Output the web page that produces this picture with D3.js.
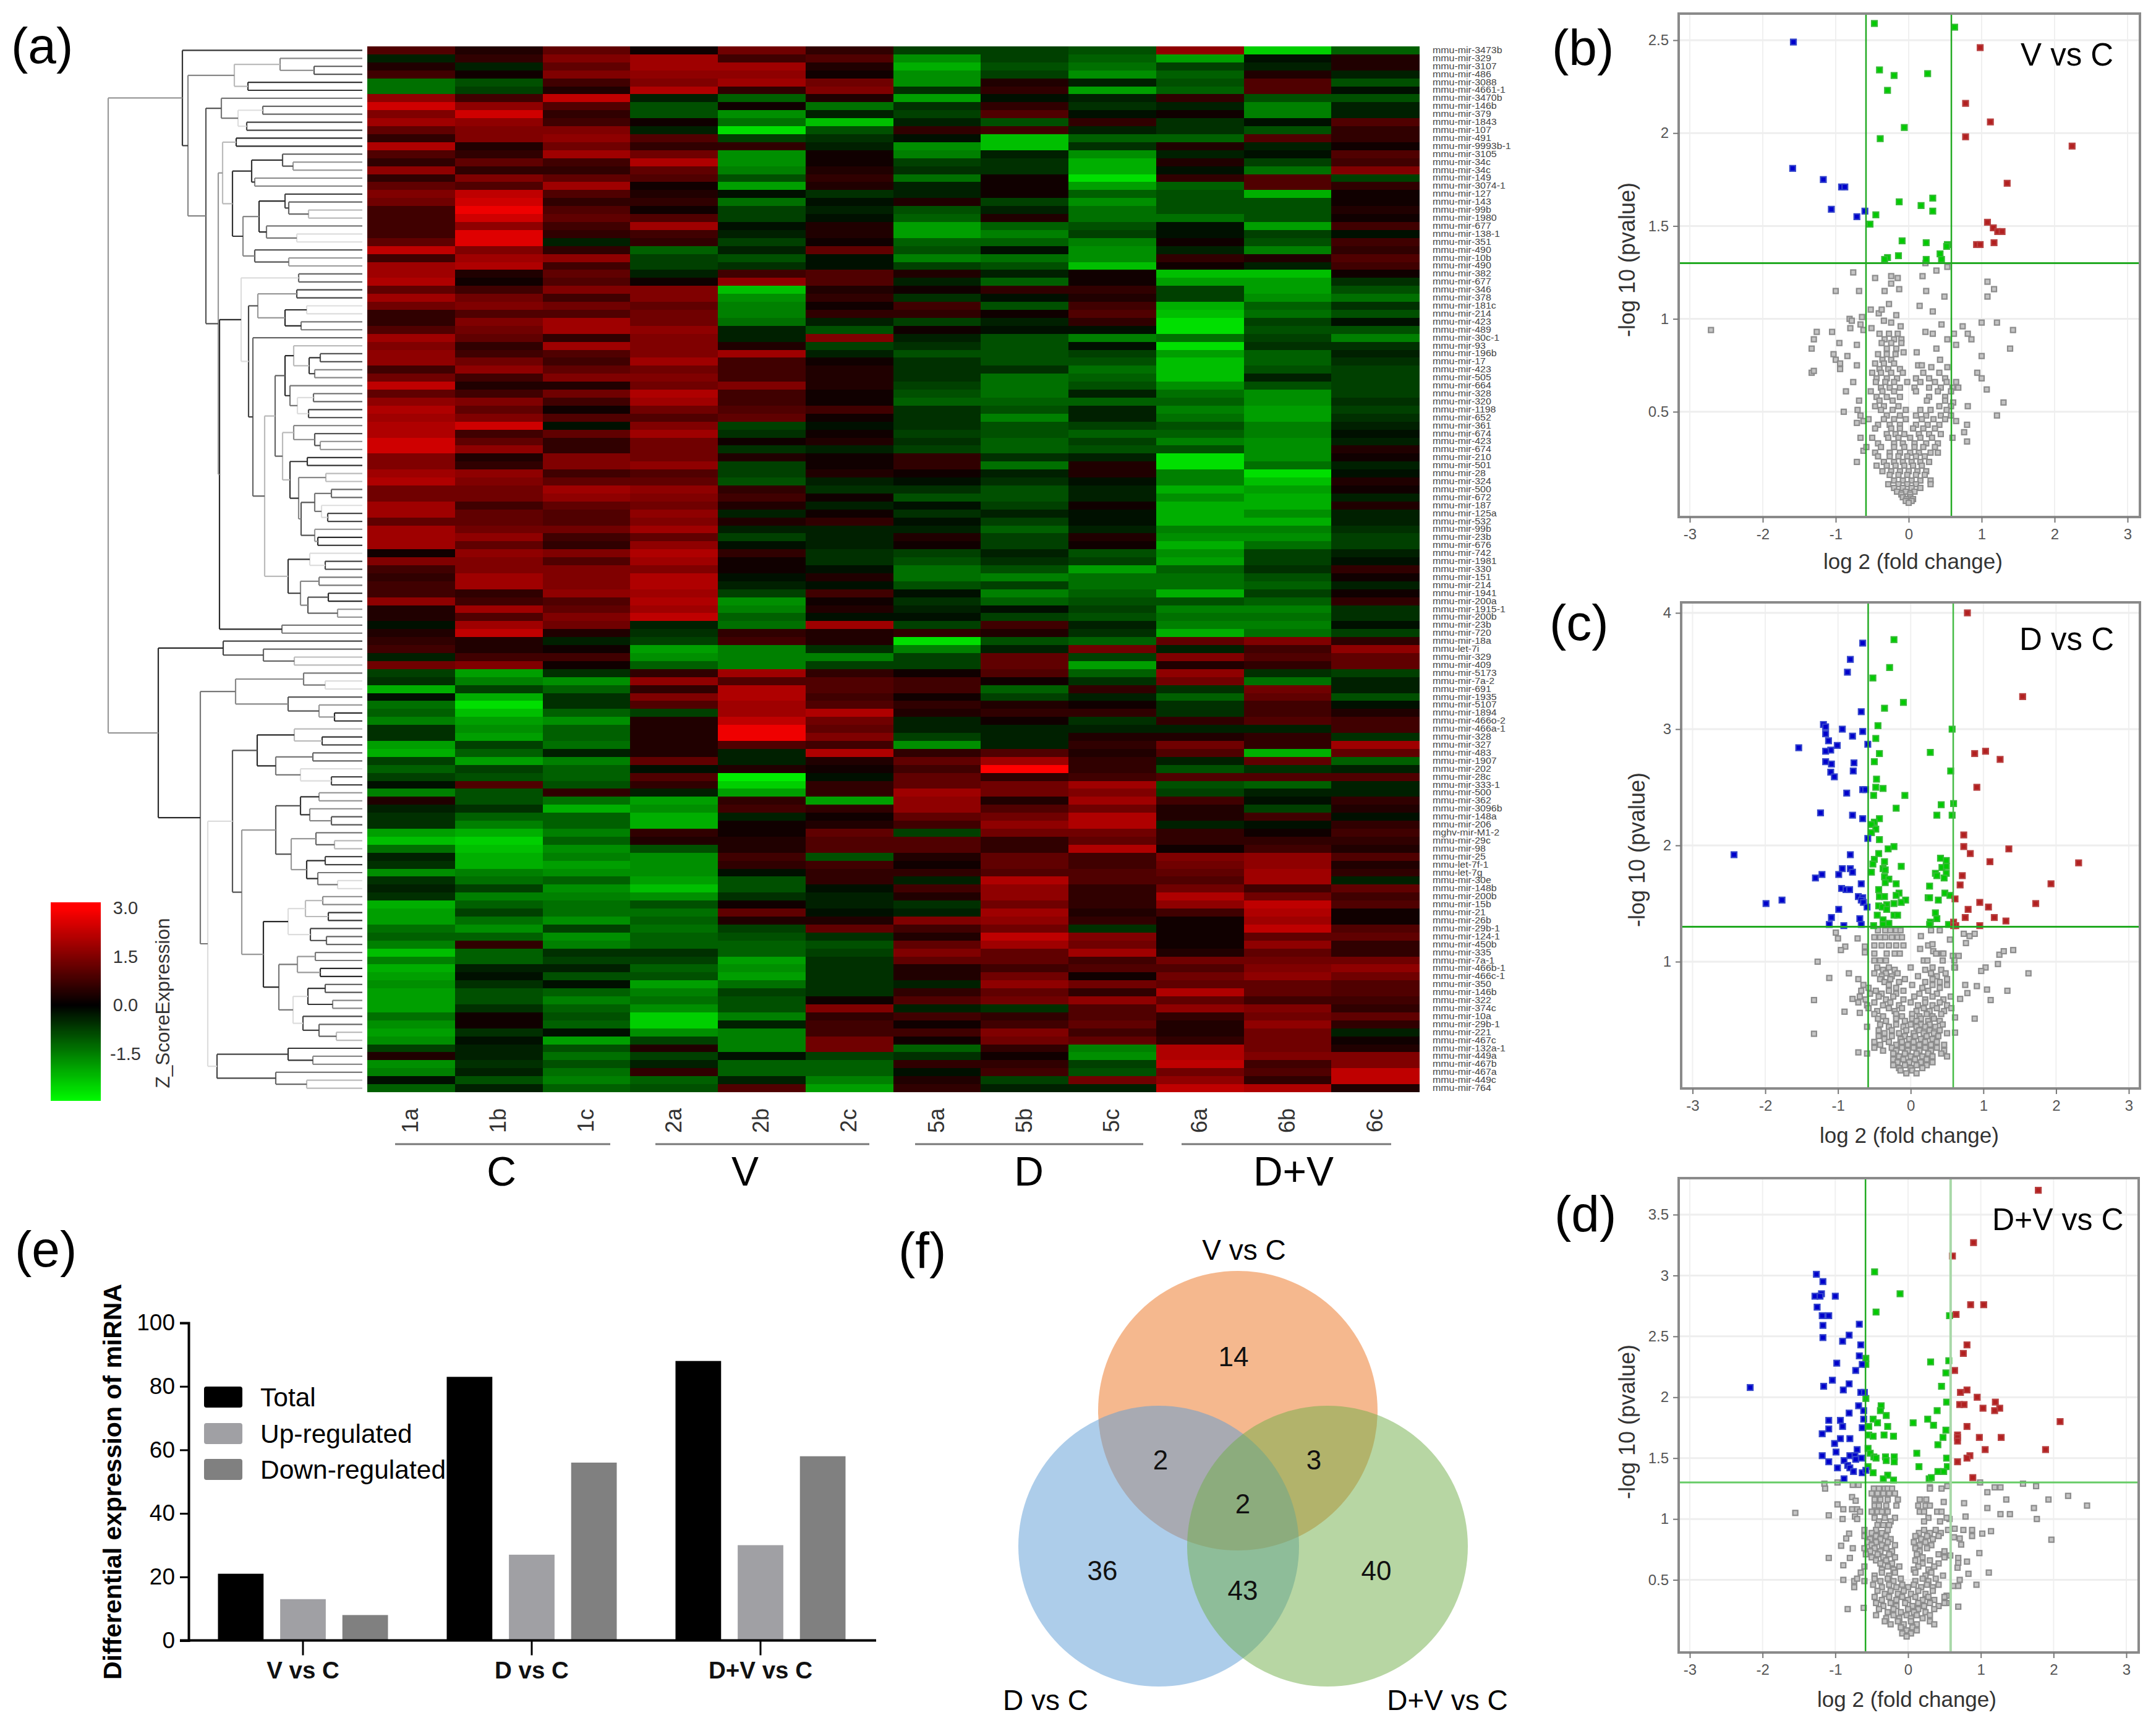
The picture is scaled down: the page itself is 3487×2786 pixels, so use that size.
<!DOCTYPE html>
<html><head><meta charset="utf-8">
<style>html,body{margin:0;padding:0;background:#fff}svg{display:block}text{font-family:"Liberation Sans",Arial,sans-serif}</style>
<script src="https://cdn.jsdelivr.net/npm/d3@7"></script></head><body>
<svg id="c" width="3487" height="2786" xmlns="http://www.w3.org/2000/svg"></svg>
<script>
/* ---------- (a) heat map data: levels are Z-score x 16/3 ---------- */
const sampleLabels=['1a','1b','1c','2a','2b','2c','5a','5b','5c','6a','6b','6c'];
const groupLabels=['C','V','D','D+V'];
const miRNA=['mmu-mir-3473b','mmu-mir-329','mmu-mir-3107','mmu-mir-486','mmu-mir-3088','mmu-mir-4661-1','mmu-mir-3470b','mmu-mir-146b','mmu-mir-379','mmu-mir-1843','mmu-mir-107','mmu-mir-491','mmu-mir-9993b-1','mmu-mir-3105','mmu-mir-34c','mmu-mir-34c','mmu-mir-149','mmu-mir-3074-1','mmu-mir-127','mmu-mir-143','mmu-mir-99b','mmu-mir-1980','mmu-mir-677','mmu-mir-138-1','mmu-mir-351','mmu-mir-490','mmu-mir-10b','mmu-mir-490','mmu-mir-382','mmu-mir-677','mmu-mir-346','mmu-mir-378','mmu-mir-181c','mmu-mir-214','mmu-mir-423','mmu-mir-489','mmu-mir-30c-1','mmu-mir-93','mmu-mir-196b','mmu-mir-17','mmu-mir-423','mmu-mir-505','mmu-mir-664','mmu-mir-328','mmu-mir-320','mmu-mir-1198','mmu-mir-652','mmu-mir-361','mmu-mir-674','mmu-mir-423','mmu-mir-674','mmu-mir-210','mmu-mir-501','mmu-mir-28','mmu-mir-324','mmu-mir-500','mmu-mir-672','mmu-mir-187','mmu-mir-125a','mmu-mir-532','mmu-mir-99b','mmu-mir-23b','mmu-mir-676','mmu-mir-742','mmu-mir-1981','mmu-mir-330','mmu-mir-151','mmu-mir-214','mmu-mir-1941','mmu-mir-200a','mmu-mir-1915-1','mmu-mir-200b','mmu-mir-23b','mmu-mir-720','mmu-mir-18a','mmu-let-7i','mmu-mir-329','mmu-mir-409','mmu-mir-5173','mmu-mir-7a-2','mmu-mir-691','mmu-mir-1935','mmu-mir-5107','mmu-mir-1894','mmu-mir-466o-2','mmu-mir-466a-1','mmu-mir-328','mmu-mir-327','mmu-mir-483','mmu-mir-1907','mmu-mir-202','mmu-mir-28c','mmu-mir-333-1','mmu-mir-500','mmu-mir-362','mmu-mir-3096b','mmu-mir-148a','mmu-mir-206','mghv-mir-M1-2','mmu-mir-29c','mmu-mir-98','mmu-mir-25','mmu-let-7f-1','mmu-let-7g','mmu-mir-30e','mmu-mir-148b','mmu-mir-200b','mmu-mir-15b','mmu-mir-21','mmu-mir-26b','mmu-mir-29b-1','mmu-mir-124-1','mmu-mir-450b','mmu-mir-335','mmu-mir-7a-1','mmu-mir-466b-1','mmu-mir-466c-1','mmu-mir-350','mmu-mir-146b','mmu-mir-322','mmu-mir-374c','mmu-mir-10a','mmu-mir-29b-1','mmu-mir-221','mmu-mir-467c','mmu-mir-132a-1','mmu-mir-449a','mmu-mir-467b','mmu-mir-467a','mmu-mir-449c','mmu-mir-764'];
const heatRows=[
[5,2,6,1,7,3,-4,-4,-5,9,-13,-6],[-2,3,8,10,4,5,-9,-4,-6,-10,-1,2],[2,-2,6,10,10,2,-11,-5,-7,-4,-2,2],[4,1,8,9,9,1,-9,-4,-9,-6,2,-2],
[-7,-5,4,8,10,7,-9,2,-2,-5,5,-5],[-7,-4,2,11,3,8,-3,3,-10,-6,5,-1],[9,4,12,-2,-6,2,-10,-1,-2,3,-5,-5],[13,9,5,-5,1,-7,-3,3,-3,-2,-8,-2],
[8,13,3,-5,-9,-2,-4,5,-1,1,-8,-2],[10,9,4,1,-7,-12,-2,-5,3,-3,-1,5],[6,8,8,-2,-14,-5,3,4,-2,-3,-5,3],[3,8,9,5,-4,-3,-1,-12,-6,-6,5,3],
[11,2,7,3,3,-2,-9,-12,-3,2,-2,1],[5,3,10,7,-9,1,-8,-2,-9,-2,-1,5],[3,6,4,11,-9,1,-4,-3,-11,2,-4,4],[9,3,3,6,-8,2,-3,-3,-11,-1,-7,8],
[3,8,6,5,-5,3,-7,1,-14,3,5,-4],[6,5,10,1,-10,2,-2,1,-10,-6,5,3],[8,12,5,2,-1,-3,-2,1,-6,-5,-11,1],[7,13,3,3,-7,-1,2,-4,-9,-5,-5,1],
[4,15,5,1,-4,-2,-5,-2,-7,-5,-5,2],[4,13,6,5,-4,-1,-6,2,-7,-7,-5,1],[4,9,4,10,-1,2,-10,-6,-5,-1,-10,4],[4,14,3,4,-2,2,-10,-8,-4,-1,-4,-1],
[6,14,-2,3,-4,1,-6,-6,-8,1,-5,4],[12,8,3,-6,-2,6,-5,-1,-9,-2,-8,3],[4,10,9,-4,-5,-1,-8,-7,-9,3,2,5],[10,11,4,-4,-3,-1,-4,-5,-12,1,-2,4],
[10,2,6,-2,4,5,2,-2,1,-12,-12,1],[11,1,5,1,9,5,-2,-6,1,-10,-10,-3],[6,4,8,8,-12,2,1,3,3,-4,-10,-5],[10,7,4,8,-9,3,-3,-1,2,-4,-9,-7],
[7,8,7,6,-8,1,4,-5,4,-11,-6,-3],[3,5,5,7,-8,3,3,1,5,-12,-7,-5],[3,8,10,7,-7,-2,-4,-2,3,-14,-4,-1],[5,7,10,9,-2,-5,1,-1,-1,-14,-5,-5],
[10,6,3,8,-2,8,-2,-5,-8,-7,-4,-8],[8,3,10,8,2,-4,-3,-5,-1,-14,-3,-3],[9,4,5,8,10,-2,-5,-5,-4,-10,-6,-2],[9,7,4,10,4,1,-3,-5,-5,-12,-6,-3],
[4,9,6,7,4,2,-3,-3,-7,-12,-5,-4],[7,4,8,8,4,2,-3,-7,-6,-12,-2,-4],[12,2,2,7,8,2,-4,-7,-5,-9,-5,-4],[6,4,7,11,4,1,-5,-7,-2,-7,-9,-4],
[9,8,4,10,4,1,-6,-6,-6,-6,-9,-3],[11,6,1,7,5,4,-3,-5,-2,-8,-10,-4],[10,8,5,5,6,1,-3,-8,-2,-7,-10,-3],[11,13,-1,8,-4,-1,-3,-5,-4,-5,-8,-2],
[11,4,6,10,-3,1,-4,-5,-6,-6,-8,-1],[13,6,3,7,1,2,-3,-6,-4,-8,-9,-2],[13,9,3,7,-3,-2,-4,-6,-5,-5,-9,2],[8,2,8,7,2,1,3,-3,-2,-14,-9,1],
[8,3,8,9,-4,1,3,-7,2,-14,-7,-2],[10,9,4,5,-4,2,1,-2,2,-8,-14,-1],[11,8,6,6,-5,-2,-1,-3,-1,-8,-12,2],[7,7,10,9,3,-3,-3,-5,-2,-11,-10,1],
[7,7,9,8,4,1,-5,-5,-2,-9,-11,-2],[10,4,6,7,2,-2,-1,-4,1,-11,-11,2],[10,6,5,9,-2,1,-3,-2,-1,-11,-9,-2],[6,6,5,8,2,3,-1,-4,-1,-11,-11,-2],
[10,7,7,10,-2,-2,-2,-6,-2,-8,-8,-3],[10,9,4,6,-4,-2,2,-4,2,-9,-9,-4],[10,6,3,9,-1,-2,1,-4,1,-11,-7,-4],[1,9,8,11,3,-3,-4,-2,-5,-9,-4,-2],
[8,8,5,10,1,-3,-5,-3,-4,-10,-4,-1],[4,8,8,8,1,-1,-7,-5,-10,-6,-3,3],[3,10,8,11,-1,2,-7,-8,-7,-7,-5,1],[4,10,8,11,-2,-1,-5,-4,-7,-7,-6,-2],
[4,3,9,10,-4,4,-1,-8,-6,-11,-4,1],[9,4,5,11,-9,1,-3,-6,-5,-5,-6,3],[2,10,6,10,-8,2,-2,-1,-4,-8,-8,-3],[2,5,8,12,-6,-1,-1,-4,-5,-7,-7,-3],
[-1,10,7,-2,-7,10,-4,4,-2,-8,-8,-1],[2,12,2,-3,3,2,3,2,-3,-11,-7,-4],[3,2,-2,-4,4,2,-14,-5,-6,6,8,3],[4,2,1,-10,-8,-3,-8,-2,7,-2,4,9],
[-2,4,4,-9,-8,-8,-4,6,-4,8,5,6],[7,8,1,-6,-8,-4,-4,6,-10,2,3,6],[-4,-10,-3,3,10,3,1,5,-6,9,-3,-4],[-3,-8,-9,9,5,5,4,1,-3,7,-7,-2],
[-11,-4,-6,3,11,5,4,-6,3,-3,7,-2],[-1,-11,-3,8,11,4,1,-4,-2,-6,6,-5],[-7,-14,-3,5,10,5,3,2,1,-3,4,-1],[-6,-12,-6,-4,10,11,2,3,3,-3,4,2],
[-8,-10,-9,2,12,7,-2,1,-3,3,5,4],[-3,-9,-6,2,15,6,-2,-2,-2,-2,-2,4],[-3,-10,-6,2,15,8,-4,-2,2,2,3,-3],[-10,-4,-7,2,5,4,-9,-2,3,7,3,10],
[-11,-6,-2,2,-2,11,3,5,2,5,-11,6],[-4,-10,-8,6,-2,2,6,10,3,-2,6,-6],[-6,-4,-6,-1,2,1,4,16,3,-5,-3,-2],[-4,-5,-6,5,-15,-1,6,3,4,5,5,5],
[-1,5,-5,3,-13,3,6,7,10,-5,-6,-2],[-8,-5,3,-2,-10,3,10,7,8,-4,-2,-2],[2,-5,-7,-10,3,-10,9,2,10,4,-1,3],[-2,-3,-11,-9,4,3,9,5,7,2,-4,2],
[-3,-6,-6,-11,-2,1,6,7,11,2,4,-1],[-3,-8,-6,-11,1,2,4,9,11,-2,-1,3],[-10,-11,-8,3,1,6,-4,7,7,3,1,4],[-12,-13,-6,2,2,5,5,3,6,3,3,3],
[-7,-12,-9,-5,2,5,5,3,11,1,4,2],[-2,-11,-8,-9,4,-5,2,6,4,8,9,5],[-3,-11,-10,-9,3,4,1,6,4,7,9,2],[-9,-8,-9,-9,-1,3,3,5,5,6,10,3],
[-3,-7,-6,-10,-5,3,-2,11,5,5,10,-2],[-2,-4,-9,-12,-5,-1,4,9,3,7,4,6],[-3,-8,-8,-9,-3,-2,2,9,3,11,7,4],[-11,-6,-7,-5,1,-2,-3,7,3,9,12,5],
[-10,-4,-7,-7,6,-1,-2,10,2,4,11,1],[-10,-7,-9,-6,2,2,8,9,3,1,10,1],[-7,-9,-4,-7,-4,6,4,7,-3,1,12,5],[-6,-6,-9,-6,-5,-3,2,12,8,1,6,6],
[-8,3,-8,-6,-6,-5,6,10,7,1,9,3],[-12,-6,-3,-3,-6,-4,8,6,10,2,6,3],[-8,-6,-4,-4,-10,-3,6,6,4,7,7,7],[-11,-2,-2,-6,-9,-3,2,4,5,5,8,9],
[-10,-1,-5,-5,-10,-3,2,7,1,7,9,7],[-9,-3,-1,-10,-7,-3,-2,9,7,6,6,5],[-10,-5,-6,-8,-4,-3,3,6,3,11,6,5],[-10,-5,-8,-7,-5,1,5,7,9,6,4,4],
[-10,-3,-6,-9,-5,8,-2,-3,5,9,8,3],[-7,1,-5,-13,-8,3,4,3,5,3,7,6],[-9,1,-6,-13,-2,4,1,4,6,2,9,3],[-10,-3,-1,-9,-8,4,4,8,4,2,7,-2],
[-9,-1,-10,-4,-8,7,1,7,6,3,7,1],[-4,-2,-5,2,-8,7,-6,3,-8,11,7,2],[2,-2,-7,-4,-1,-4,-3,1,-9,11,8,8],[-9,-3,-5,-2,-6,-6,3,3,-4,12,4,8],
[-8,-2,-7,3,-6,-6,-1,4,-5,7,5,12],[-1,-5,-8,-6,-2,-8,2,-4,7,9,3,12],[-6,-2,-6,-5,5,-10,3,-2,-2,12,11,2]];
const o=0; // a leaf of the row dendrogram; nodes are [height, child, child]
const rowTree=[411,
 [291,o,[282,
  [207,[133,o,[78,o,o]],[185,o,o]],
  [253,
   [228,o,[201,[161,o,o],[187,o,o]]],
   [233,
    [226,[204,o,o],[210,
      [179,[129,o,[112,o,o]],[174,o,o]],
      [193,[167,[125,o,[119,o,[87,o,o]]],[155,o,[106,o,o]]],[174,o,[119,o,o]]]]],
    [231,
     [196,[103,o,o],[184,
       [169,[106,o,o],[125,[90,o,o],[99,o,o]]],
       [177,o,[158,
         [141,
          [125,[111,o,[86,[68,o,o],[77,o,o]]],[117,o,[105,[79,o,o],[87,o,o]]]],
          [129,[111,o,[77,o,[68,o,o]]],
               [117,[89,o,o],[103,[59,o,o],[99,[77,[50,o,o],[66,o,[56,o,o]]],[77,o,[72,o,o]]]]]]],
         [120,[85,o,[60,o,o]],[100,[70,o,o],[88,[55,o,o],[40,o,o]]]]]]]],
     [130,o,o]]]]]],
 [330,
  [225,o,[160,o,[110,o,o]]],
  [262,
   [205,[95,o,[60,o,o]],[120,o,[70,o,[45,o,o]]]],
   [250,
    [210,
     [170,[110,o,[65,o,o]],[140,[80,o,o],[100,o,[50,o,o]]]],
     [195,
      [140,[100,[70,o,o],[85,o,[50,o,o]]],[115,[75,o,[45,o,o]],[90,[60,o,o],[72,o,[40,o,o]]]]],
      [160,[120,[92,[64,o,o],[55,o,o]],[84,o,[58,o,o]]],[135,[105,[76,o,o],[68,o,o]],[112,[88,[60,o,o],[48,o,o]],[96,o,[70,o,[42,o,o]]]]]]]],
    [235,[120,o,[80,o,o]],[140,o,[90,o,o]]]]]]];
const legendTicks=[3,1.5,0,-1.5];

/* ---------- (b) V vs C ---------- */
const bBlue=[[-1.58,2.49],[-1.59,1.81],[-1.17,1.75],[-.92,1.71],[-.875,1.71],[-1.06,1.59],[-.6,1.58],[-.71,1.55]];
const bGreen=[[-.47,2.59],[.63,2.57],[-.4,2.34],[-.2,2.31],[.26,2.32],[-.29,2.23],[-.06,2.03],[-.39,1.97],[-.13,1.63],[.33,1.65],[.17,1.61],[.33,1.58],[-.45,1.56],[-.53,1.51],[-.09,1.42],[.24,1.41],[.53,1.4],[.52,1.39],[.43,1.35],[.45,1.32],[.24,1.32],[-.14,1.34],[-.29,1.33],[-.33,1.32]];
const bRed=[[.98,2.46],[.78,2.16],[1.12,2.06],[.78,1.98],[2.24,1.93],[1.35,1.73],[1.08,1.52],[1.16,1.49],[1.22,1.47],[1.28,1.47],[1.17,1.41],[.93,1.4],[.98,1.4]];
const bGraySparse=[[-.76,1.25],[-.46,1.22],[-.24,1.23],[-.15,1.22],[.19,1.23],[.38,1.26],[.23,1.3],[.53,1.28],[1.08,1.2],[1.17,1.16],[1.08,1.12],[.49,1.12],[.24,1.15],[-.13,1.16],[-.33,1.15],[-.24,1.19],[-1,1.15],[-.68,1.15],[-.27,1.08],[.15,1.07],[.33,1.04],[-.52,1.05],[-.41,1.03],[-.37,1.05],[-.81,1],[-.78,.99],[-.64,1.01],[-.17,1.02],[-.34,.99],[-.24,.98],[-.66,.97],[-.11,.96],[.45,.97],[.74,.96],[1,.98],[1.21,.98],[1.43,.94],[-2.71,.94],[-1.26,.93],[-1.05,.93],[-.8,.95],[-.62,.94],[-.51,.95],[.23,.93],[.33,.92],[.62,.92],[.81,.92],[.86,.89],[-1.3,.89],[-.95,.87],[-.71,.86],[.53,.89],[.65,.86],[.38,.84],[1.39,.84],[-1.33,.84],[.11,.82],[-.07,.82],[-1.03,.81],[-.84,.8],[1,.8],[.43,.78],[-1,.78],[-.94,.76],[-.94,.73],[-.71,.75],[.13,.75],[.18,.75],[.53,.74],[.31,.74],[-1.33,.71],[-1.3,.72],[.94,.71],[1,.68],[-.76,.66],[.65,.66],[.68,.63],[1.07,.62],[-.86,.61],[1.3,.55],[.61,.55],[.81,.53],[-.89,.5],[1.21,.48],[.65,.45],[.8,.43],[.76,.39],[.8,.34],[.6,.36],[-.71,.44],[-.62,.45],[-.66,.36],[-.71,.23],[-.62,.29]];
const bGrayBands=[[.92,[-.4,-.27,-.15]],[.89,[-.33,-.2,-.1]],[.87,[-.37,-.24,-.1]],[.84,[-.3,-.17]],[.81,[-.42,-.3,-.18]],[.78,[-.36,-.24]],[.76,[-.46,-.34,-.2]],[.73,[-.4,-.28,-.12]],[.71,[-.5,-.38,-.24,-.08,.2,.42]],[.68,[-.44,-.3,-.16,.1,.28,.5]],[.66,[-.45,-.32,-.2,-.02,.16,.36,.52]],[.63,[-.38,-.26,-.12,.08,.28,.44,.6]],[.61,[-.52,-.36,-.2,.1,.4,.58]],[.58,[-.44,-.3,-.12,.28,.5]],[.56,[-.68,-.4,-.22,.25,.5]],[.53,[-.46,-.34,-.14,.42,.58]],[.51,[-.7,-.38,-.22,-.04,.16,.3,.52]],[.48,[-.66,-.3,-.12,.1,.24,.44,.58]],[.46,[-.55,-.34,-.2,-.04,.18,.34,.5]],[.43,[-.42,-.26,-.12,.1,.26,.42]],[.41,[-.46,-.24,-.12,.06,.2,.36]],[.38,[-.3,-.18,-.06,.14,.28,.44]],[.36,[-.5,-.28,-.14,.02,.16,.32]],[.33,[-.42,-.2,-.08,.08,.24,.4]],[.31,[-.58,-.38,-.2,-.06,.08,.2,.36]],[.28,[-.46,-.26,-.12,.02,.14,.3,.4]],[.26,[-.42,-.26,-.14,-.02,.1,.22]],[.23,[-.34,-.2,-.08,.04,.16,.28]],[.21,[-.44,-.3,-.18,-.06,.06,.18]],[.18,[-.36,-.24,-.12,0,.12,.24]],[.16,[-.26,-.14,-.02,.1,.22]],[.13,[-.2,-.08,.04,.16,.3]],[.11,[-.28,-.14,-.02,.1,.3]],[.09,[-.2,-.08,.04,.16]],[.07,[-.16,-.04,.08]],[.055,[-.1,.02]],[.04,[-.08,.02]],[.03,[-.03,.06]],[.02,[-.04,.04]],[.01,[0]]];

/* ---------- (c) D vs C ---------- */
const cBlue=[[-.66,3.74],[-.83,3.6],[-.87,3.49],[-.68,3.15],[-1.2,3.04],[-1.17,3.02],[-.94,3],[-1.17,2.96],[-.66,2.98],[-.8,2.94],[-1.13,2.9],[-.59,2.87],[-1.01,2.86],[-1.54,2.84],[-1.1,2.82],[-1.17,2.81],[-1.17,2.72],[-1.09,2.7],[-.78,2.71],[-.79,2.64],[-1.1,2.63],[-1.05,2.59],[-.66,2.48],[-.62,2.48],[-.88,2.45],[-1.24,2.28],[-.8,2.26],[-.66,2.23],[-.59,2.06],[-2.43,1.92],[-.83,1.92],[-.94,1.8],[-.83,1.8],[-.8,1.77],[-.99,1.75],[-1.22,1.75],[-1.31,1.72],[-.68,1.67],[-.95,1.63],[-.89,1.62],[-.84,1.62],[-.72,1.56],[-.66,1.55],[-.68,1.53],[-.65,1.51],[-.6,1.47],[-1.77,1.53],[-1.99,1.5],[-.99,1.45],[-1.09,1.38],[-.7,1.37],[-1.12,1.32],[-.92,1.31],[-.68,1.32]];
const cGreen=[[-.23,3.77],[-.29,3.53],[-.52,3.44],[-.36,3.18],[-.1,3.23],[-.45,3.03],[.57,3],[-.48,2.92],[-.43,2.79],[.27,2.8],[-.5,2.72],[.55,2.64],[-.47,2.57],[-.48,2.5],[-.38,2.49],[-.51,2.43],[-.08,2.43],[-.2,2.32],[.42,2.35],[.59,2.36],[.36,2.26],[.57,2.26],[-.43,2.23],[-.5,2.2],[-.54,2.18],[-.48,2.14],[-.54,2.11],[-.43,2.05],[-.23,1.99],[-.31,1.97],[-.44,1.93],[-.5,1.88],[-.52,1.84],[-.36,1.86],[.41,1.89],[.49,1.87],[.43,1.81],[.49,1.82],[-.13,1.82],[-.38,1.8],[-.35,1.79],[-.54,1.77],[.34,1.76],[.36,1.74],[.49,1.76],[.46,1.72],[-.36,1.73],[-.3,1.71],[-.35,1.68],[-.2,1.67],[.26,1.65],[-.44,1.62],[.47,1.59],[.54,1.57],[-.16,1.59],[-.2,1.57],[-.43,1.56],[-.36,1.56],[.24,1.55],[.26,1.55],[.38,1.53],[-.07,1.53],[-.13,1.51],[-.23,1.5],[-.33,1.49],[-.44,1.48],[-.39,1.47],[-.33,1.45],[.34,1.42],[-.46,1.4],[-.23,1.4],[-.18,1.4],[.36,1.37],[-.38,1.36],[.27,1.34],[.26,1.32],[.52,1.32],[-.51,1.31],[-.38,1.32],[-.3,1.33]];
const cRed=[[.78,4],[1.54,3.28],[1.03,2.81],[.88,2.79],[1.23,2.74],[.91,2.5],[.73,2.09],[.73,1.99],[.82,1.93],[1.35,1.97],[1.09,1.86],[2.31,1.85],[.71,1.74],[.68,1.66],[1.93,1.67],[1.72,1.5],[.61,1.54],[.95,1.51],[1.07,1.47],[.79,1.45],[.75,1.38],[1.15,1.38],[1.31,1.35],[.59,1.34],[.62,1.31],[.95,1.31],[.59,1.31]];
const cGraySparse=[[-1.03,1.25],[-1,1.2],[-.73,1.2],[.14,1.22],[.54,1.19],[.73,1.24],[.88,1.24],[.81,1.22],[.76,1.16],[-.9,1.13],[-.96,1.1],[-.63,1.13],[-.63,1.08],[.24,1.14],[.3,1.15],[.13,1.11],[.31,1.09],[.43,1.07],[.58,1.05],[.66,1.05],[1.22,1.06],[1.28,1.09],[1.41,1.1],[1.2,.98],[-1.28,1],[1.03,.95],[.97,.92],[1.62,.9],[-.85,.9],[-1.12,.86],[-.72,.85],[.61,.95],[.75,.8],[.91,.79],[1.05,.76],[1.33,.75],[.78,.73],[.68,.68],[1.1,.67],[-1.33,.67],[-.8,.68],[-.91,.57],[-.7,.56],[.88,.51],[.61,.52],[-.6,.44],[-1.33,.38],[.61,.39],[-.72,.22],[-.6,.21]];
const cGrayBands=[[1.27,[-.45,-.35,-.28,-.2,-.14,.28,.4]],[1.21,[-.5,-.42,-.35,-.26,-.18,-.12]],[1.14,[-.5,-.4,-.3,-.2,-.1]],[1.07,[-.5,-.33,-.22,-.15,.35,.45]],[1.01,[-.5,-.42,-.34,.18,.23,.44,.6]],[.95,[-.46,-.3,0,.3,.6]],[.93,[-.38,-.22,.2,.42]],[.9,[-.5,-.34,-.18,.28,.48]],[.875,[-.4,-.26,.1,.36]],[.85,[-.42,-.28,-.08,.3,.5]],[.825,[-.36,-.16,.2,.4]],[.8,[-.65,-.3,.02,.3,.5]],[.775,[-.58,-.2,.16,.4]],[.75,[-.68,-.48,-.3,-.1,.24]],[.725,[-.56,-.4,-.2,.12,.36]],[.7,[-.7,-.44,-.24,.05,.3,.55]],[.675,[-.62,-.34,-.1,.2,.45]],[.65,[-.72,-.5,-.28,0,.2,.4]],[.625,[-.6,-.38,-.16,.1,.3,.5]],[.6,[-.58,-.3,-.12,.18,.36,.56]],[.575,[-.46,-.22,.08,.26,.46]],[.55,[-.5,-.2,.02,.22,.42]],[.53,[-.38,-.12,.12,.3]],[.51,[-.45,-.2,.02,.14,.32]],[.49,[-.34,-.08,.08,.24,.4]],[.46,[-.42,-.2,0,.14,.26,.44]],[.44,[-.3,-.1,.08,.2,.34]],[.41,[-.44,-.26,-.06,.12,.26,.4]],[.385,[-.36,-.16,.04,.18,.32,.5]],[.36,[-.44,-.26,-.08,.06,.22,.38]],[.335,[-.36,-.14,-.02,.14,.3]],[.31,[-.5,-.3,-.12,.04,.2,.36]],[.285,[-.42,-.2,-.04,.12,.28,.46]],[.26,[-.5,-.26,-.12,.04,.2,.36]],[.235,[-.38,-.2,-.04,.12,.28,.46]],[.21,[-.24,-.08,.08,.24,.42]],[.185,[-.16,0,.16,.3,.5]],[.16,[-.24,-.1,.06,.22]],[.135,[-.18,-.02,.14,.3]],[.11,[-.24,-.08,.08,.22]],[.085,[-.16,0,.16]],[.065,[-.14,.02]],[.04,[-.06,.08]]];

/* ---------- (d) D+V vs C ---------- */
const dBlue=[[-1.26,3.01],[-1.17,2.95],[-1.19,2.85],[-1.28,2.83],[-1.21,2.83],[-1,2.83],[-1.25,2.74],[-1.18,2.67],[-1.09,2.67],[-1.17,2.59],[-1.17,2.49],[-.67,2.6],[-.81,2.51],[-.9,2.46],[-.65,2.43],[-.67,2.34],[-.98,2.28],[-.63,2.27],[-.72,2.22],[-1.04,2.14],[-.81,2.11],[-1.16,2.09],[-.89,2.06],[-2.17,2.08],[-.65,2.04],[-.6,2.04],[-.68,1.93],[-.61,1.89],[-.81,1.87],[-1.09,1.81],[-.93,1.81],[-.61,1.82],[-.9,1.76],[-1.09,1.74],[-.63,1.75],[-1.18,1.7],[-.93,1.66],[-.8,1.66],[-1.01,1.62],[-.99,1.55],[-.7,1.57],[-1.18,1.52],[-.8,1.52],[-.73,1.52],[-.64,1.5],[-1.09,1.47],[-.88,1.48],[-.72,1.49],[-.83,1.44],[-.8,1.42],[-.97,1.42],[-.75,1.39],[-.63,1.38],[-.58,1.4],[-.88,1.33]];
const dGreen=[[-.46,3.03],[-.11,2.85],[-.44,2.7],[.57,2.67],[-.58,2.32],[-.58,2.27],[.56,2.3],[.31,2.29],[.52,2.2],[.46,2.09],[-.58,1.99],[.53,1.96],[-.37,1.93],[-.38,1.89],[.4,1.89],[-.3,1.85],[-.48,1.82],[-.42,1.79],[.07,1.79],[.27,1.82],[.35,1.77],[-.54,1.76],[-.28,1.76],[.52,1.73],[-.54,1.69],[-.48,1.68],[-.33,1.69],[-.2,1.68],[.48,1.67],[.41,1.61],[-.55,1.58],[-.52,1.54],[-.47,1.51],[-.44,1.5],[.12,1.54],[-.31,1.51],[-.3,1.48],[-.19,1.51],[-.19,1.47],[.53,1.5],[-.55,1.43],[.54,1.43],[.15,1.43],[.41,1.39],[.49,1.39],[-.48,1.38],[-.28,1.36],[-.34,1.33],[-.2,1.32],[.29,1.33],[.32,1.34]];
const dRed=[[1.79,3.7],[.9,3.27],[.61,3.16],[.86,2.76],[1.04,2.76],[.66,2.68],[.81,2.43],[.76,2.36],[.64,2.22],[.81,2.06],[.72,2.04],[.95,2],[1.2,1.96],[.71,1.94],[.77,1.94],[1.03,1.91],[1.26,1.91],[1.19,1.89],[2.09,1.8],[.81,1.76],[.68,1.69],[.68,1.67],[.68,1.64],[.98,1.67],[1.28,1.67],[1.06,1.57],[1.89,1.57],[.85,1.52],[.81,1.5],[.68,1.47],[.89,1.34]];
const dGraySparse=[[-1.15,1.29],[-1.14,1.25],[-.97,1.3],[-.76,1.28],[-.68,1.28],[.3,1.26],[.46,1.25],[.54,1.27],[.99,1.3],[1.09,1.22],[1.19,1.26],[1.27,1.26],[1.58,1.29],[1.76,1.27],[1.35,1.16],[1.93,1.16],[2.2,1.19],[.77,1.13],[2.46,1.11],[.49,1.14],[-.77,1.18],[-.72,1.15],[-.97,1.12],[-1.55,1.05],[-1.09,1.03],[-.89,1.08],[-.9,1],[-.77,1.08],[-.7,1.08],[-.66,1.06],[-.73,1.02],[-.7,1],[1.73,1.09],[1.09,1.09],[1.27,1.04],[1.4,1.04],[1.77,1],[.79,1.02],[.57,1],[1.97,.83],[1.14,.9],[1.02,.88],[.88,.91],[.88,.86],[.76,.91],[.64,.92],[.63,.85],[.71,.84],[-.81,.88],[-.85,.84],[-.92,.78],[-.76,.76],[-.8,.68],[-1.09,.68],[.98,.72],[.73,.79],[.81,.65],[.58,.7],[.69,.68],[.69,.64],[.68,.6],[1.11,.56],[.83,.55],[-.89,.62],[-.89,.5],[-.74,.49],[-.74,.44],[.94,.46],[.71,.5],[.62,.45],[.69,.45],[-.83,.26],[-.61,.27],[.69,.28],[.53,.37],[.53,.31]];
const dGrayBands=[[1.25,[-.47,-.4,-.32,-.28,-.22,.3]],[1.21,[-.5,-.42,-.34,-.26,-.18]],[1.16,[-.46,-.38,-.28,-.14,.16,.25]],[1.11,[-.46,-.4,-.3,-.16,.14,.24,.3]],[1.06,[-.5,-.42,-.36,-.28,.16,.22,.4,.46]],[1.01,[-.46,-.32,-.18,.28,.53]],[.98,[-.4,-.24,.22,.44]],[.95,[-.42,-.34,-.26]],[.91,[-.6,-.44,-.28,.22,.38,.55]],[.885,[-.5,-.36,.15,.3,.45]],[.86,[-.6,-.44,-.3,.1,.26,.42]],[.835,[-.52,-.38,-.24,.18,.34]],[.81,[-.56,-.44,-.28,.08,.24]],[.785,[-.5,-.36,-.18,.16,.32]],[.76,[-.6,-.46,-.3,.1,.26]],[.735,[-.52,-.38,-.22,.16,.5]],[.71,[-.58,-.42,-.26,.12,.42]],[.685,[-.5,-.34,-.18,.2,.5]],[.66,[-.44,-.3,.1,.3]],[.635,[-.38,-.22,.2,.42]],[.61,[-.6,-.28,-.12,.14,.36]],[.585,[-.36,-.2,.08,.28]],[.56,[-.65,-.36,-.18,.1,.32]],[.535,[-.46,-.26,.24,.48]],[.51,[-.7,-.46,-.28,-.1,.2,.38]],[.49,[-.6,-.38,-.2,.1,.28]],[.46,[-.48,-.26,-.08,.08,.26,.42]],[.44,[-.36,-.16,0,.18,.34]],[.41,[-.42,-.24,-.06,.14,.34]],[.385,[-.32,-.14,.04,.24]],[.36,[-.46,-.26,-.08,.1,.28,.5]],[.335,[-.36,-.16,0,.2,.36]],[.31,[-.44,-.24,-.04,.14,.3,.5]],[.285,[-.34,-.16,.06,.22,.42]],[.26,[-.4,-.2,0,.14,.36]],[.235,[-.28,-.1,.08,.24]],[.21,[-.44,-.2,-.02,.12,.3]],[.185,[-.3,-.12,.04,.2]],[.16,[-.32,-.14,.04,.3]],[.135,[-.24,-.06,.12,.36]],[.11,[-.1,.06]],[.085,[-.02,.12]],[.06,[-.08,.04]],[.035,[-.02]]];

/* ---------- (e) bars ---------- */
const barCategories=['V vs C','D vs C','D+V vs C'];
const barSeries=['Total','Up-regulated','Down-regulated'];
const totalCounts=[21,83,88];
const upCounts=[13,27,30];
const downCounts=[8,56,58];
const barTicks=[0,20,40,60,80,100];

/* ---------- (f) Venn ---------- */
const vennSets=['V vs C','D vs C','D+V vs C'];
const vennCounts=['14','2','3','2','36','40','43'];

/* ================= drawing ================= */
const svg=d3.select('#c');
const FONT='"Liberation Sans",Arial,sans-serif';
function label(s,x,y,size,opt={}){
  return svg.append('text').attr('x',x).attr('y',y).attr('font-size',size).attr('font-family',FONT)
   .attr('fill',opt.fill||'#000').attr('text-anchor',opt.anchor||'start').attr('font-weight',opt.weight||'normal')
   .attr('dominant-baseline',opt.base||'auto').text(s);
}
function vlabel(s,x,y,size,opt={}){
  return svg.append('text').attr('transform',`translate(${x},${y}) rotate(-90)`).attr('font-size',size).attr('font-family',FONT)
   .attr('fill',opt.fill||'#000').attr('text-anchor','middle').attr('dominant-baseline','central').attr('font-weight',opt.weight||'normal').text(s);
}
[['(a)',18,102],['(b)',2510,105],['(c)',2506,1035],['(d)',2514,1991],['(e)',24,2048],['(f)',1453,2050]].forEach(d=>label(d[0],d[1],d[2],82));

/* --- heat map --- */
const heatColor=d3.scaleLinear().domain([-16,0,16]).range(['#00ff00','#000000','#ff0000']).clamp(true);
const xHeat=d3.scaleBand().domain(sampleLabels).range([594,2295]);
const yHeat=d3.scaleBand().domain(d3.range(heatRows.length)).range([75,1766]);
svg.append('g').attr('shape-rendering','crispEdges').selectAll('g').data(heatRows).join('g')
 .attr('transform',(d,i)=>`translate(0,${yHeat(i)})`)
 .selectAll('rect').data(d=>d).join('rect')
 .attr('x',(d,i)=>xHeat(sampleLabels[i])).attr('width',xHeat.bandwidth()+.5).attr('height',yHeat.bandwidth()+.5)
 .attr('fill',d=>heatColor(d));
svg.append('g').selectAll('text').data(miRNA).join('text')
 .attr('transform',(d,i)=>`translate(2317,${yHeat(i)+yHeat.bandwidth()/2+4.5}) scale(1.14,1)`)
 .attr('font-size',14).attr('font-family',FONT).attr('fill','#444').text(d=>d);
sampleLabels.forEach(s=>vlabel(s,xHeat(s)+xHeat.bandwidth()/2-1,1812,36,{fill:'#333'}));
[[639,987,811],[1060,1406,1205],[1480,1849,1664],[1911,2250,2092]].forEach((g,i)=>{
  svg.append('line').attr('x1',g[0]).attr('x2',g[1]).attr('y1',1850).attr('y2',1850).attr('stroke','#777').attr('stroke-width',3);
  label(groupLabels[i],g[2],1917,66,{anchor:'middle'});
});

/* --- dendrogram --- */
const xTree=d3.scaleLinear().domain([0,410]).range([586,176]);
const shades=['#555','#888','#333','#bbb','#666','#444','#ddd','#777','#2a2a2a','#999'];
let leaf=0,nodeIdx=0;
const gTree=svg.append('g').attr('fill','none').attr('stroke-width',2.2);
function walk(n){
  if(!Array.isArray(n)){const y=yHeat(leaf)+yHeat.bandwidth()/2;leaf++;return{y,h:0};}
  const kids=n.slice(1).map(walk);
  const y=(kids[0].y+kids[kids.length-1].y)/2;
  const x=xTree(n[0]);
  gTree.append('path').attr('stroke',shades[nodeIdx++%shades.length])
    .attr('d',kids.map(k=>`M${xTree(k.h)},${k.y}H${x}`).join('')+`M${x},${kids[0].y}V${kids[kids.length-1].y}`);
  return{y,h:n[0]};
}
walk(rowTree);

/* --- colour legend --- */
const yLegend=d3.scaleLinear().domain([3,0]).range([1468,1625]);
const legendSteps=d3.range(3.17,-2.94,-0.02);
svg.append('g').attr('shape-rendering','crispEdges').selectAll('rect').data(legendSteps).join('rect')
 .attr('x',82).attr('width',81).attr('y',d=>yLegend(d)).attr('height',yLegend(0)-yLegend(.02)+.6)
 .attr('fill',d=>heatColor(d*16/3));
legendTicks.forEach(t=>label(t.toFixed(1),203,yLegend(t),29,{anchor:'middle',base:'central',fill:'#333'}));
vlabel('Z_ScoreExpression',263,1622,31.5,{fill:'#333'});

/* --- volcano plots --- */
function volcano(p){
  const x=d3.scaleLinear().domain([-3,3]).range(p.xr);
  const y=d3.scaleLinear().domain([0,p.yMaxTick]).range(p.yr);
  const g=svg.append('g');
  const xT=[-3,-2,-1,0,1,2,3];
  g.append('g').selectAll('line').data(xT).join('line').attr('x1',d=>x(d)).attr('x2',d=>x(d)).attr('y1',p.top).attr('y2',p.bottom).attr('stroke','#f0f0f0').attr('stroke-width',2);
  g.append('g').selectAll('line').data(p.yT).join('line').attr('y1',d=>y(d)).attr('y2',d=>y(d)).attr('x1',p.left).attr('x2',p.right).attr('stroke','#eeeeee').attr('stroke-width',3);
  const gray=p.sparse.concat(p.bands.flatMap(b=>b[1].map(v=>[v,b[0]])));
  const sq=(sel,data,fill,stroke,sz)=>sel.append('g').selectAll('rect').data(data).join('rect')
    .attr('x',d=>x(d[0])-sz/2).attr('y',d=>y(d[1])-sz/2).attr('width',sz).attr('height',sz).attr('fill',fill).attr('stroke',stroke).attr('stroke-width',2.2);
  sq(g,gray,'#c4c4c4','#8c8c8c',8);
  sq(g,p.green,'#00cc00','#33bb33',9);
  sq(g,p.blue,'#0000cc','#3344cc',9);
  sq(g,p.red,'#b22020','#b84040',9);
  g.append('line').attr('x1',p.left).attr('x2',p.right).attr('y1',y(1.3)).attr('y2',y(1.3)).attr('stroke',p.lineH).attr('stroke-width',3);
  g.append('line').attr('x1',x(-.585)).attr('x2',x(-.585)).attr('y1',p.top).attr('y2',p.bottom).attr('stroke','#22aa22').attr('stroke-width',2.5);
  g.append('line').attr('x1',x(.585)).attr('x2',x(.585)).attr('y1',p.top).attr('y2',p.bottom).attr('stroke',p.lineR).attr('stroke-width',p.lineRw);
  g.append('rect').attr('x',p.left).attr('y',p.top).attr('width',p.right-p.left).attr('height',p.bottom-p.top).attr('fill','none').attr('stroke','#8a8a8a').attr('stroke-width',4);
  const xa=g.append('g').attr('transform',`translate(0,${p.bottom})`).call(d3.axisBottom(x).tickValues(xT).tickSize(9).tickPadding(10).tickFormat(d=>d<0?'-'+Math.abs(d):d));
  const ya=g.append('g').attr('transform',`translate(${p.left},0)`).call(d3.axisLeft(y).tickValues(p.yT).tickSize(9).tickPadding(7).tickFormat(d=>d));
  [xa,ya].forEach(a=>{a.select('.domain').remove();a.selectAll('line').attr('stroke','#777').attr('stroke-width',2);
    a.selectAll('text').attr('font-size',24).attr('font-family',FONT).attr('fill','#555');});
  label('log 2 (fold change)',p.xLab[0],p.xLab[1],35,{anchor:'middle',base:'central',fill:'#333'});
  vlabel('-log 10 (pvalue)',p.yLab[0],p.yLab[1],36,{fill:'#333'});
  label(p.title,p.tPos[0],p.tPos[1],p.tSize);
}
volcano({left:2715,right:3461,top:22,bottom:836,xr:[2733,3441],yr:[816,65],yMaxTick:2.5,yT:[.5,1,1.5,2,2.5],
 blue:bBlue,green:bGreen,red:bRed,sparse:bGraySparse,bands:bGrayBands,lineH:'#22aa22',lineR:'#22aa22',lineRw:2.5,
 xLab:[3094,907],yLab:[2631,420],title:'V vs C',tPos:[3268,106],tSize:51});
volcano({left:2719,right:3461,top:974,bottom:1760,xr:[2737.5,3443],yr:[1743,991],yMaxTick:4,yT:[1,2,3,4],
 blue:cBlue,green:cGreen,red:cRed,sparse:cGraySparse,bands:cGrayBands,lineH:'#22aa22',lineR:'#44bb44',lineRw:2.5,
 xLab:[3088,1835],yLab:[2647,1374],title:'D vs C',tPos:[3266,1051],tSize:51});
volcano({left:2715,right:3459,top:1905,bottom:2672,xr:[2733,3439],yr:[2653,1964],yMaxTick:3.5,yT:[.5,1,1.5,2,2.5,3,3.5],
 blue:dBlue,green:dGreen,red:dRed,sparse:dGraySparse,bands:dGrayBands,lineH:'#66cc66',lineR:'#a8d8a8',lineRw:4,
 xLab:[3084,2747],yLab:[2631,2299],title:'D+V vs C',tPos:[3222,1989],tSize:50});

/* --- (e) bars --- */
const x0=d3.scaleBand().domain(barCategories).range([305,1415]);
const x1=d3.scaleBand().domain(barSeries).range([-137.5,137.5]).paddingInner(.267);
const yBar=d3.scaleLinear().domain([0,100]).range([2652.5,2139]);
const barColor=d3.scaleOrdinal().domain(barSeries).range(['#000000','#a0a0a4','#808080']);
const barValues=[totalCounts,upCounts,downCounts];
barSeries.forEach((s,k)=>{
  svg.append('g').selectAll('rect').data(barValues[k]).join('rect')
   .attr('x',(d,i)=>x0(barCategories[i])+x0.bandwidth()/2+x1(s)).attr('width',x1.bandwidth())
   .attr('y',d=>yBar(d)).attr('height',d=>yBar(0)-yBar(d)).attr('fill',barColor(s));
});
const ax=svg.append('g').attr('transform','translate(0,2652.5)').call(d3.axisBottom(x0).tickSize(24).tickPadding(10));
ax.select('.domain').attr('stroke','#000').attr('stroke-width',4).attr('d','M291,0H1417');
ax.selectAll('line').attr('stroke','#000').attr('stroke-width',3);
ax.selectAll('text').attr('font-size',38.5).attr('font-weight','bold').attr('font-family',FONT).attr('fill','#111');
const ay=svg.append('g').attr('transform','translate(305,0)').call(d3.axisLeft(yBar).tickValues(barTicks).tickSize(14).tickPadding(8));
ay.select('.domain').attr('stroke','#000').attr('stroke-width',4);
ay.selectAll('line').attr('stroke','#000').attr('stroke-width',3);
ay.selectAll('text').attr('font-size',37).attr('font-family',FONT).attr('fill','#000');
vlabel('Differential expression of miRNA',182,2396,41,{weight:'bold'});
barSeries.forEach((s,i)=>{
  const yy=[2259,2318,2376][i];
  svg.append('rect').attr('x',330).attr('y',yy-17).attr('width',62).attr('height',34).attr('rx',4).attr('fill',barColor(s));
  label(s,421,yy,42.5,{base:'central'});
});

/* --- (f) Venn --- */
[[2002,2281,226,'#ED7D31',.55],[1874,2500,227,'#5B9BD5',.5],[2147,2500,227,'#70AD47',.5]].forEach(c=>
  svg.append('circle').attr('cx',c[0]).attr('cy',c[1]).attr('r',c[2]).attr('fill',c[3]).attr('fill-opacity',c[4]));
[[1995,2193],[1877,2360],[2125,2360],[2010,2431],[1783,2539],[2226,2539],[2010,2571]].forEach((p,i)=>
  label(vennCounts[i],p[0],p[1],44,{anchor:'middle',base:'central',fill:'#111'}));
[[2012,2021],[1691,2749],[2341,2749]].forEach((p,i)=>label(vennSets[i],p[0],p[1],46,{anchor:'middle',base:'central'}));
if(leaf!==heatRows.length||miRNA.length!==heatRows.length)console.error('row mismatch',leaf,miRNA.length,heatRows.length);
</script></body></html>
